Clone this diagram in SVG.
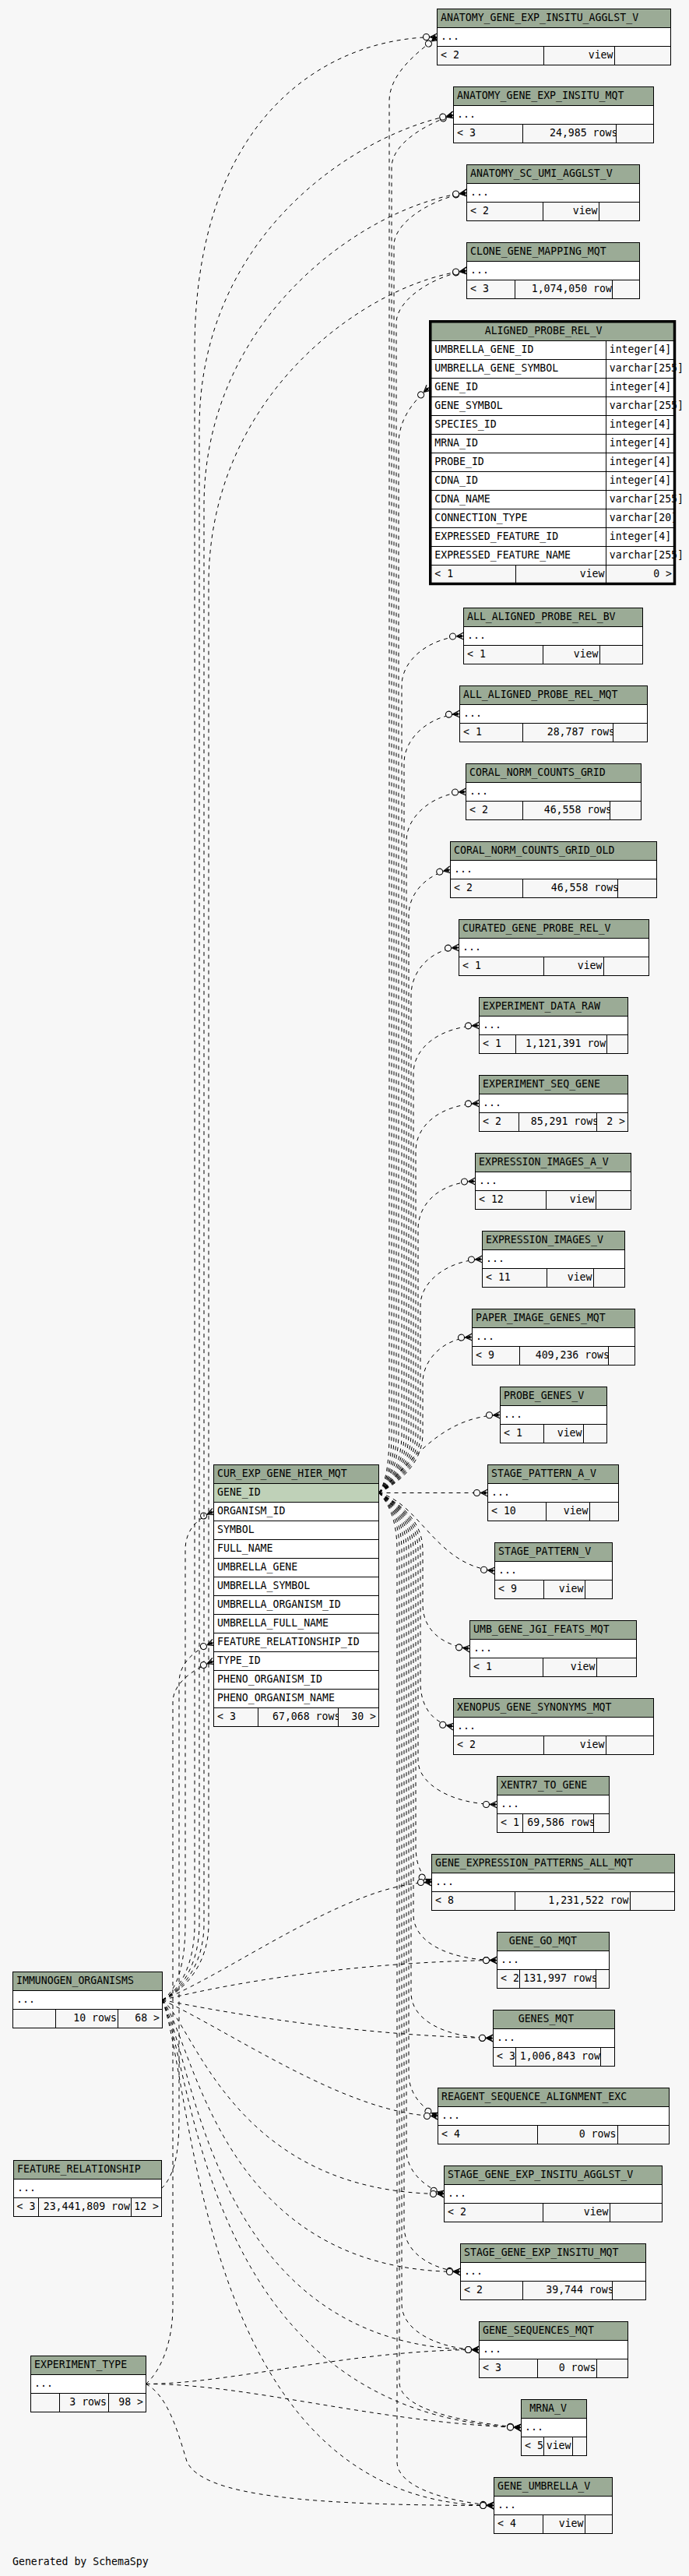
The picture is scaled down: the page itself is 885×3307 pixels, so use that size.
<svg xmlns="http://www.w3.org/2000/svg" width="885" height="3307" viewBox="0 0 885 3307">
<style>
.h{fill:#9bab96;stroke:#000;stroke-width:1}
.b{fill:#fff;stroke:#000;stroke-width:1}
.f{fill:#f7f7f7;stroke:#000;stroke-width:1}
.s{fill:#bfd1b8;stroke:#000;stroke-width:1}
text{font-family:"DejaVu Sans Mono","Liberation Mono",monospace;font-size:13.2px;fill:#000}
.r{text-anchor:end}
.e{fill:none;stroke:#000;stroke-width:1;stroke-dasharray:5 5;marker-end:url(#c)}
</style>
<defs>
<marker id="c" viewBox="-20 -6 21 12" refX="0" refY="0" markerWidth="21" markerHeight="12" markerUnits="userSpaceOnUse" orient="auto" overflow="visible">
<path d="M-9,0 L0,-4.5 M-9,0 L0,4.5 M-9,0 L0,0" stroke="#000" stroke-width="1.2" fill="none"/>
<path d="M-9,0 L-2,-2.2 L-2,2.2 Z" fill="#000"/>
<circle cx="-14" cy="0" r="4" fill="#f7f7f7" stroke="#000" stroke-width="1.1"/>
</marker>
</defs>
<rect x="0" y="0" width="885" height="3307" fill="#f7f7f7"/>

<g id="connectors">
<!-- CUR_EXP_GENE_HIER_MQT.GENE_ID children (upward) -->
<path class="e" d="M486.5,1916.5 C495,1905 500,1880 500,1840 L500,130 C500,95 535,68 561.5,47.5"/>
<path class="e" d="M486.5,1916.5 C496,1905 503,1880 503,1840 L503,215 C503,185 545,160 582.5,147.5"/>
<path class="e" d="M486.5,1916.5 C497,1905 506,1880 506,1840 L506,315 C506,285 555,255 599.5,247.5"/>
<path class="e" d="M486.5,1916.5 C498,1905 509,1880 509,1840 L509,415 C509,385 555,355 599.5,347.5"/>
<path class="e" d="M486.5,1916.5 C499,1905 512,1880 512,1840 L512,570 C512,535 535,512 551,497.5"/>
<path class="e" d="M486.5,1916.5 C500,1905 516,1880 516,1840 L516,880 C516,845 555,818 595.5,816.5"/>
<path class="e" d="M486.5,1916.5 C501,1905 519,1880 519,1840 L519,980 C519,945 555,918 590.5,916.5"/>
<path class="e" d="M486.5,1916.5 C502,1905 522,1880 522,1840 L522,1080 C522,1045 560,1018 598.5,1016.5"/>
<path class="e" d="M486.5,1916.5 C503,1905 525,1880 525,1840 L525,1175 C525,1145 550,1122 578.5,1116.5"/>
<path class="e" d="M486.5,1916.5 C504,1905 528,1880 528,1840 L528,1278 C528,1245 555,1218 589.5,1216.5"/>
<path class="e" d="M486.5,1916.5 C505,1905 531,1880 531,1840 L531,1378 C531,1345 565,1318 615.5,1316.5"/>
<path class="e" d="M486.5,1916.5 C506,1905 534,1880 534,1840 L534,1478 C534,1445 565,1418 615.5,1416.5"/>
<path class="e" d="M486.5,1916.5 C507,1905 537,1880 537,1840 L537,1578 C537,1545 565,1518 610.5,1516.5"/>
<path class="e" d="M486.5,1916.5 C508,1905 540,1880 540,1840 L540,1676 C540,1645 575,1618 619.5,1616.5"/>
<path class="e" d="M486.5,1916.5 C510,1905 543,1880 543,1840 L543,1775 C543,1745 570,1718 606.5,1716.5"/>
<path class="e" d="M486.5,1916.5 C520,1890 560,1818 642.5,1816.5"/>
<path class="e" d="M486.5,1916.5 L626.5,1916.5"/>
<!-- downward -->
<path class="e" d="M486.5,1916.5 C540,1930 560,2010 635.5,2016.5"/>
<path class="e" d="M486.5,1916.5 C510,1928 543,1950 543,1990 L543,2060 C543,2090 565,2112 603.5,2116.5"/>
<path class="e" d="M486.5,1916.5 C508,1928 540,1950 540,1990 L540,2160 C540,2190 555,2212 582.5,2216.5"/>
<path class="e" d="M486.5,1916.5 C507,1928 537,1950 537,1990 L537,2260 C537,2290 580,2316.5 638.5,2316.5"/>
<path class="e" d="M486.5,1916.5 C506,1928 534,1950 534,1990 L534,2370 C534,2395 542,2410 554.5,2416.5"/>
<path class="e" d="M486.5,1916.5 C505,1928 531,1950 531,1990 L531,2458 C531,2495 580,2516.5 638.5,2516.5"/>
<path class="e" d="M486.5,1916.5 C504,1928 528,1950 528,1990 L528,2558 C528,2595 575,2616.5 633.5,2616.5"/>
<path class="e" d="M486.5,1916.5 C503,1928 525,1950 525,1990 L525,2662 C525,2690 545,2708 562.5,2716.5"/>
<path class="e" d="M486.5,1916.5 C502,1928 522,1950 522,1990 L522,2760 C522,2790 550,2810 570.5,2816.5"/>
<path class="e" d="M486.5,1916.5 C501,1928 519,1950 519,1990 L519,2858 C519,2895 560,2914 591.5,2916.5"/>
<path class="e" d="M486.5,1916.5 C500,1928 516,1950 516,1990 L516,2958 C516,2995 570,3016.5 615.5,3016.5"/>
<path class="e" d="M486.5,1916.5 C499,1928 513,1950 513,1990 L513,3058 C513,3095 600,3110 669.5,3116.5"/>
<path class="e" d="M486.5,1916.5 C498,1928 510,1950 510,1990 L510,3160 C510,3195 580,3212 634.5,3216.5"/>
<!-- IMMUNOGEN_ORGANISMS children -->
<path class="e" d="M208.5,2567.5 C228,2555 238,2520 238,2470 L238,1990 C238,1965 252,1950 274.5,1940.5"/>
<path class="e" d="M208.5,2567.5 C232,2555 250,2520 250,2470 L250,450 C250,150 420,47.5 561.5,47.5"/>
<path class="e" d="M208.5,2567.5 C234,2555 256,2520 256,2470 L256,550 C256,300 460,170 582.5,147.5"/>
<path class="e" d="M208.5,2567.5 C236,2555 262,2520 262,2470 L262,650 C262,400 480,260 599.5,247.5"/>
<path class="e" d="M208.5,2567.5 C238,2555 268,2520 268,2470 L268,750 C268,500 480,360 599.5,347.5"/>
<path class="e" d="M208.5,2567.5 C300,2530 450,2416.5 554.5,2416.5"/>
<path class="e" d="M208.5,2567.5 C320,2540 480,2518 638.5,2516.5"/>
<path class="e" d="M208.5,2567.5 C320,2590 480,2614 633.5,2616.5"/>
<path class="e" d="M208.5,2567.5 C300,2610 450,2716.5 562.5,2716.5"/>
<path class="e" d="M208.5,2567.5 C250,2600 300,2816.5 570.5,2816.5"/>
<path class="e" d="M208.5,2567.5 C250,2620 280,2916.5 591.5,2916.5"/>
<path class="e" d="M208.5,2567.5 C250,2640 270,3016.5 615.5,3016.5"/>
<path class="e" d="M208.5,2567.5 C250,2660 260,3100 669.5,3116.5"/>
<path class="e" d="M208.5,2567.5 C250,2680 255,3216.5 634.5,3216.5"/>
<!-- FEATURE_RELATIONSHIP children -->
<path class="e" d="M207.5,2809.5 C222,2795 230,2770 230,2720 L230,2160 C230,2135 250,2118 274.5,2108.5"/>
<!-- EXPERIMENT_TYPE children -->
<path class="e" d="M187.5,3060.5 C205,3045 222,3010 222,2960 L222,2185 C222,2160 250,2142 274.5,2132.5"/>
<path class="e" d="M187.5,3060.5 C300,3060 450,3016.5 615.5,3016.5"/>
<path class="e" d="M187.5,3060.5 C320,3060 480,3110 669.5,3116.5"/>
<path class="e" d="M187.5,3060.5 C215,3075 228,3120 240,3160 C260,3205 400,3216.5 634.5,3216.5"/>
</g>

<g id="ANATOMY_GENE_EXP_INSITU_AGGLST_V">
<rect class="h" x="561.5" y="11.5" width="300" height="24"/><text x="566" y="27">ANATOMY_GENE_EXP_INSITU_AGGLST_V</text>
<rect class="b" x="561.5" y="35.5" width="300" height="24"/><text x="566" y="51">...</text>
<rect class="f" x="561.5" y="59.5" width="137" height="24"/><text x="566" y="75">&lt; 2</text>
<rect class="f" x="698.5" y="59.5" width="91" height="24"/><text class="r" x="787.5" y="75">view</text>
<rect class="f" x="789.5" y="59.5" width="72" height="24"/>
</g>
<g id="ANATOMY_GENE_EXP_INSITU_MQT">
<rect class="h" x="582.5" y="111.5" width="257" height="24"/><text x="587" y="127">ANATOMY_GENE_EXP_INSITU_MQT</text>
<rect class="b" x="582.5" y="135.5" width="257" height="24"/><text x="587" y="151">...</text>
<rect class="f" x="582.5" y="159.5" width="89" height="24"/><text x="587" y="175">&lt; 3</text>
<rect class="f" x="671.5" y="159.5" width="120" height="24"/><text x="706" y="175">24,985 rows</text>
<rect class="f" x="791.5" y="159.5" width="48" height="24"/>
</g>
<g id="ANATOMY_SC_UMI_AGGLST_V">
<rect class="h" x="599.5" y="211.5" width="222" height="24"/><text x="604" y="227">ANATOMY_SC_UMI_AGGLST_V</text>
<rect class="b" x="599.5" y="235.5" width="222" height="24"/><text x="604" y="251">...</text>
<rect class="f" x="599.5" y="259.5" width="98" height="24"/><text x="604" y="275">&lt; 2</text>
<rect class="f" x="697.5" y="259.5" width="72" height="24"/><text class="r" x="767.5" y="275">view</text>
<rect class="f" x="769.5" y="259.5" width="52" height="24"/>
</g>
<g id="CLONE_GENE_MAPPING_MQT">
<rect class="h" x="599.5" y="311.5" width="222" height="24"/><text x="604" y="327">CLONE_GENE_MAPPING_MQT</text>
<rect class="b" x="599.5" y="335.5" width="222" height="24"/><text x="604" y="351">...</text>
<rect class="f" x="599.5" y="359.5" width="62" height="24"/><text x="604" y="375">&lt; 3</text>
<rect class="f" x="661.5" y="359.5" width="125" height="24"/><text x="682.7" y="375">1,074,050 rows</text>
<rect class="f" x="786.5" y="359.5" width="35" height="24"/>
</g>
<g id="ALIGNED_PROBE_REL_V">
<rect class="h" x="552.5" y="411.5" width="314" height="26"/><text x="622.7" y="429">ALIGNED_PROBE_REL_V</text>
<rect class="b" x="552.5" y="437.5" width="226" height="24"/><rect class="b" x="778.5" y="437.5" width="88" height="24"/>
<rect class="b" x="552.5" y="461.5" width="226" height="24"/><rect class="b" x="778.5" y="461.5" width="88" height="24"/>
<rect class="b" x="552.5" y="485.5" width="226" height="24"/><rect class="b" x="778.5" y="485.5" width="88" height="24"/>
<rect class="b" x="552.5" y="509.5" width="226" height="24"/><rect class="b" x="778.5" y="509.5" width="88" height="24"/>
<rect class="b" x="552.5" y="533.5" width="226" height="24"/><rect class="b" x="778.5" y="533.5" width="88" height="24"/>
<rect class="b" x="552.5" y="557.5" width="226" height="24"/><rect class="b" x="778.5" y="557.5" width="88" height="24"/>
<rect class="b" x="552.5" y="581.5" width="226" height="24"/><rect class="b" x="778.5" y="581.5" width="88" height="24"/>
<rect class="b" x="552.5" y="605.5" width="226" height="24"/><rect class="b" x="778.5" y="605.5" width="88" height="24"/>
<rect class="b" x="552.5" y="629.5" width="226" height="24"/><rect class="b" x="778.5" y="629.5" width="88" height="24"/>
<rect class="b" x="552.5" y="653.5" width="226" height="24"/><rect class="b" x="778.5" y="653.5" width="88" height="24"/>
<rect class="b" x="552.5" y="677.5" width="226" height="24"/><rect class="b" x="778.5" y="677.5" width="88" height="24"/>
<rect class="b" x="552.5" y="701.5" width="226" height="24"/><rect class="b" x="778.5" y="701.5" width="88" height="24"/>
<text x="558.3" y="453">UMBRELLA_GENE_ID</text><text x="782.7" y="453">integer[4]</text>
<text x="558.3" y="477">UMBRELLA_GENE_SYMBOL</text><text x="782.7" y="477">varchar[255]</text>
<text x="558.3" y="501">GENE_ID</text><text x="782.7" y="501">integer[4]</text>
<text x="558.3" y="525">GENE_SYMBOL</text><text x="782.7" y="525">varchar[255]</text>
<text x="558.3" y="549">SPECIES_ID</text><text x="782.7" y="549">integer[4]</text>
<text x="558.3" y="573">MRNA_ID</text><text x="782.7" y="573">integer[4]</text>
<text x="558.3" y="597">PROBE_ID</text><text x="782.7" y="597">integer[4]</text>
<text x="558.3" y="621">CDNA_ID</text><text x="782.7" y="621">integer[4]</text>
<text x="558.3" y="645">CDNA_NAME</text><text x="782.7" y="645">varchar[255]</text>
<text x="558.3" y="669">CONNECTION_TYPE</text><text x="782.7" y="669">varchar[20]</text>
<text x="558.3" y="693">EXPRESSED_FEATURE_ID</text><text x="782.7" y="693">integer[4]</text>
<text x="558.3" y="717">EXPRESSED_FEATURE_NAME</text><text x="782.7" y="717">varchar[255]</text>
<rect class="f" x="552.5" y="725.5" width="110" height="24"/><text x="558.3" y="741">&lt; 1</text>
<rect class="f" x="662.5" y="725.5" width="116" height="24"/><text class="r" x="776.5" y="741">view</text>
<rect class="f" x="778.5" y="725.5" width="88" height="24"/><text class="r" x="863" y="741">0 &gt;</text>
<rect x="552.75" y="412.75" width="313.75" height="336.75" fill="none" stroke="#000" stroke-width="3.5"/>
</g>
<g id="ALL_ALIGNED_PROBE_REL_BV">
<rect class="h" x="595.5" y="780.5" width="230" height="24"/><text x="600" y="796">ALL_ALIGNED_PROBE_REL_BV</text>
<rect class="b" x="595.5" y="804.5" width="230" height="24"/><text x="600" y="820">...</text>
<rect class="f" x="595.5" y="828.5" width="102" height="24"/><text x="600" y="844">&lt; 1</text>
<rect class="f" x="697.5" y="828.5" width="73" height="24"/><text class="r" x="768.5" y="844">view</text>
<rect class="f" x="770.5" y="828.5" width="55" height="24"/>
</g>
<g id="ALL_ALIGNED_PROBE_REL_MQT">
<rect class="h" x="590.5" y="880.5" width="241" height="24"/><text x="595" y="896">ALL_ALIGNED_PROBE_REL_MQT</text>
<rect class="b" x="590.5" y="904.5" width="241" height="24"/><text x="595" y="920">...</text>
<rect class="f" x="590.5" y="928.5" width="81" height="24"/><text x="595" y="944">&lt; 1</text>
<rect class="f" x="671.5" y="928.5" width="116" height="24"/><text x="702.7" y="944">28,787 rows</text>
<rect class="f" x="787.5" y="928.5" width="44" height="24"/>
</g>
<g id="CORAL_NORM_COUNTS_GRID">
<rect class="h" x="598.5" y="980.5" width="225" height="24"/><text x="603" y="996">CORAL_NORM_COUNTS_GRID</text>
<rect class="b" x="598.5" y="1004.5" width="225" height="24"/><text x="603" y="1020">...</text>
<rect class="f" x="598.5" y="1028.5" width="73" height="24"/><text x="603" y="1044">&lt; 2</text>
<rect class="f" x="671.5" y="1028.5" width="112" height="24"/><text x="698.7" y="1044">46,558 rows</text>
<rect class="f" x="783.5" y="1028.5" width="40" height="24"/>
</g>
<g id="CORAL_NORM_COUNTS_GRID_OLD">
<rect class="h" x="578.5" y="1080.5" width="265" height="24"/><text x="583" y="1096">CORAL_NORM_COUNTS_GRID_OLD</text>
<rect class="b" x="578.5" y="1104.5" width="265" height="24"/><text x="583" y="1120">...</text>
<rect class="f" x="578.5" y="1128.5" width="93" height="24"/><text x="583" y="1144">&lt; 2</text>
<rect class="f" x="671.5" y="1128.5" width="122" height="24"/><text x="707.7" y="1144">46,558 rows</text>
<rect class="f" x="793.5" y="1128.5" width="50" height="24"/>
</g>
<g id="CURATED_GENE_PROBE_REL_V">
<rect class="h" x="589.5" y="1180.5" width="244" height="24"/><text x="594" y="1196">CURATED_GENE_PROBE_REL_V</text>
<rect class="b" x="589.5" y="1204.5" width="244" height="24"/><text x="594" y="1220">...</text>
<rect class="f" x="589.5" y="1228.5" width="109" height="24"/><text x="594" y="1244">&lt; 1</text>
<rect class="f" x="698.5" y="1228.5" width="77" height="24"/><text class="r" x="773.5" y="1244">view</text>
<rect class="f" x="775.5" y="1228.5" width="58" height="24"/>
</g>
<g id="EXPERIMENT_DATA_RAW">
<rect class="h" x="615.5" y="1280.5" width="191" height="24"/><text x="620" y="1296">EXPERIMENT_DATA_RAW</text>
<rect class="b" x="615.5" y="1304.5" width="191" height="24"/><text x="620" y="1320">...</text>
<rect class="f" x="615.5" y="1328.5" width="47" height="24"/><text x="620" y="1344">&lt; 1</text>
<rect class="f" x="662.5" y="1328.5" width="117" height="24"/><text x="675" y="1344">1,121,391 rows</text>
<rect class="f" x="779.5" y="1328.5" width="27" height="24"/>
</g>
<g id="EXPERIMENT_SEQ_GENE">
<rect class="h" x="615.5" y="1380.5" width="191" height="24"/><text x="620" y="1396">EXPERIMENT_SEQ_GENE</text>
<rect class="b" x="615.5" y="1404.5" width="191" height="24"/><text x="620" y="1420">...</text>
<rect class="f" x="615.5" y="1428.5" width="51" height="24"/><text x="620" y="1444">&lt; 2</text>
<rect class="f" x="666.5" y="1428.5" width="100" height="24"/><text x="681.7" y="1444">85,291 rows</text>
<rect class="f" x="766.5" y="1428.5" width="40" height="24"/><text class="r" x="803" y="1444">2 &gt;</text>
</g>
<g id="EXPRESSION_IMAGES_A_V">
<rect class="h" x="610.5" y="1480.5" width="200" height="24"/><text x="615" y="1496">EXPRESSION_IMAGES_A_V</text>
<rect class="b" x="610.5" y="1504.5" width="200" height="24"/><text x="615" y="1520">...</text>
<rect class="f" x="610.5" y="1528.5" width="91" height="24"/><text x="615" y="1544">&lt; 12</text>
<rect class="f" x="701.5" y="1528.5" width="64" height="24"/><text class="r" x="763.5" y="1544">view</text>
<rect class="f" x="765.5" y="1528.5" width="45" height="24"/>
</g>
<g id="EXPRESSION_IMAGES_V">
<rect class="h" x="619.5" y="1580.5" width="183" height="24"/><text x="624" y="1596">EXPRESSION_IMAGES_V</text>
<rect class="b" x="619.5" y="1604.5" width="183" height="24"/><text x="624" y="1620">...</text>
<rect class="f" x="619.5" y="1628.5" width="83" height="24"/><text x="624" y="1644">&lt; 11</text>
<rect class="f" x="702.5" y="1628.5" width="60" height="24"/><text class="r" x="760.5" y="1644">view</text>
<rect class="f" x="762.5" y="1628.5" width="40" height="24"/>
</g>
<g id="PAPER_IMAGE_GENES_MQT">
<rect class="h" x="606.5" y="1680.5" width="209" height="24"/><text x="611" y="1696">PAPER_IMAGE_GENES_MQT</text>
<rect class="b" x="606.5" y="1704.5" width="209" height="24"/><text x="611" y="1720">...</text>
<rect class="f" x="606.5" y="1728.5" width="61" height="24"/><text x="611" y="1744">&lt; 9</text>
<rect class="f" x="667.5" y="1728.5" width="114" height="24"/><text x="687.7" y="1744">409,236 rows</text>
<rect class="f" x="781.5" y="1728.5" width="34" height="24"/>
</g>
<g id="PROBE_GENES_V">
<rect class="h" x="642.5" y="1780.5" width="137" height="24"/><text x="647" y="1796">PROBE_GENES_V</text>
<rect class="b" x="642.5" y="1804.5" width="137" height="24"/><text x="647" y="1820">...</text>
<rect class="f" x="642.5" y="1828.5" width="56" height="24"/><text x="647" y="1844">&lt; 1</text>
<rect class="f" x="698.5" y="1828.5" width="51" height="24"/><text class="r" x="747.5" y="1844">view</text>
<rect class="f" x="749.5" y="1828.5" width="30" height="24"/>
</g>
<g id="STAGE_PATTERN_A_V">
<rect class="h" x="626.5" y="1880.5" width="168" height="24"/><text x="631" y="1896">STAGE_PATTERN_A_V</text>
<rect class="b" x="626.5" y="1904.5" width="168" height="24"/><text x="631" y="1920">...</text>
<rect class="f" x="626.5" y="1928.5" width="75" height="24"/><text x="631" y="1944">&lt; 10</text>
<rect class="f" x="701.5" y="1928.5" width="56" height="24"/><text class="r" x="755.5" y="1944">view</text>
<rect class="f" x="757.5" y="1928.5" width="37" height="24"/>
</g>
<g id="STAGE_PATTERN_V">
<rect class="h" x="635.5" y="1980.5" width="151" height="24"/><text x="640" y="1996">STAGE_PATTERN_V</text>
<rect class="b" x="635.5" y="2004.5" width="151" height="24"/><text x="640" y="2020">...</text>
<rect class="f" x="635.5" y="2028.5" width="63" height="24"/><text x="640" y="2044">&lt; 9</text>
<rect class="f" x="698.5" y="2028.5" width="53" height="24"/><text class="r" x="749.5" y="2044">view</text>
<rect class="f" x="751.5" y="2028.5" width="35" height="24"/>
</g>
<g id="UMB_GENE_JGI_FEATS_MQT">
<rect class="h" x="603.5" y="2080.5" width="214" height="24"/><text x="608" y="2096">UMB_GENE_JGI_FEATS_MQT</text>
<rect class="b" x="603.5" y="2104.5" width="214" height="24"/><text x="608" y="2120">...</text>
<rect class="f" x="603.5" y="2128.5" width="94" height="24"/><text x="608" y="2144">&lt; 1</text>
<rect class="f" x="697.5" y="2128.5" width="69" height="24"/><text class="r" x="764.5" y="2144">view</text>
<rect class="f" x="766.5" y="2128.5" width="51" height="24"/>
</g>
<g id="XENOPUS_GENE_SYNONYMS_MQT">
<rect class="h" x="582.5" y="2180.5" width="257" height="24"/><text x="587" y="2196">XENOPUS_GENE_SYNONYMS_MQT</text>
<rect class="b" x="582.5" y="2204.5" width="257" height="24"/><text x="587" y="2220">...</text>
<rect class="f" x="582.5" y="2228.5" width="116" height="24"/><text x="587" y="2244">&lt; 2</text>
<rect class="f" x="698.5" y="2228.5" width="80" height="24"/><text class="r" x="776.5" y="2244">view</text>
<rect class="f" x="778.5" y="2228.5" width="61" height="24"/>
</g>
<g id="XENTR7_TO_GENE">
<rect class="h" x="638.5" y="2280.5" width="144" height="24"/><text x="643" y="2296">XENTR7_TO_GENE</text>
<rect class="b" x="638.5" y="2304.5" width="144" height="24"/><text x="643" y="2320">...</text>
<rect class="f" x="638.5" y="2328.5" width="33" height="24"/><text x="643" y="2344">&lt; 1</text>
<rect class="f" x="671.5" y="2328.5" width="91" height="24"/><text x="677.3" y="2344">69,586 rows</text>
<rect class="f" x="762.5" y="2328.5" width="20" height="24"/>
</g>
<g id="GENE_EXPRESSION_PATTERNS_ALL_MQT">
<rect class="h" x="554.5" y="2380.5" width="312" height="24"/><text x="559" y="2396">GENE_EXPRESSION_PATTERNS_ALL_MQT</text>
<rect class="b" x="554.5" y="2404.5" width="312" height="24"/><text x="559" y="2420">...</text>
<rect class="f" x="554.5" y="2428.5" width="107" height="24"/><text x="559" y="2444">&lt; 8</text>
<rect class="f" x="661.5" y="2428.5" width="148" height="24"/><text x="704.3" y="2444">1,231,522 rows</text>
<rect class="f" x="809.5" y="2428.5" width="57" height="24"/>
</g>
<g id="GENE_GO_MQT">
<rect class="h" x="638.5" y="2480.5" width="144" height="24"/><text x="653.7" y="2496">GENE_GO_MQT</text>
<rect class="b" x="638.5" y="2504.5" width="144" height="24"/><text x="643" y="2520">...</text>
<rect class="f" x="638.5" y="2528.5" width="29" height="24"/><text x="643" y="2544">&lt; 2</text>
<rect class="f" x="667.5" y="2528.5" width="98" height="24"/><text x="672.3" y="2544">131,997 rows</text>
<rect class="f" x="765.5" y="2528.5" width="17" height="24"/>
</g>
<g id="GENES_MQT">
<rect class="h" x="633.5" y="2580.5" width="156" height="24"/><text x="665.7" y="2596">GENES_MQT</text>
<rect class="b" x="633.5" y="2604.5" width="156" height="24"/><text x="638" y="2620">...</text>
<rect class="f" x="633.5" y="2628.5" width="29" height="24"/><text x="638" y="2644">&lt; 3</text>
<rect class="f" x="662.5" y="2628.5" width="109" height="24"/><text x="667.7" y="2644">1,006,843 rows</text>
<rect class="f" x="771.5" y="2628.5" width="18" height="24"/>
</g>
<g id="REAGENT_SEQUENCE_ALIGNMENT_EXC">
<rect class="h" x="562.5" y="2680.5" width="297" height="24"/><text x="567" y="2696">REAGENT_SEQUENCE_ALIGNMENT_EXC</text>
<rect class="b" x="562.5" y="2704.5" width="297" height="24"/><text x="567" y="2720">...</text>
<rect class="f" x="562.5" y="2728.5" width="128" height="24"/><text x="567" y="2744">&lt; 4</text>
<rect class="f" x="690.5" y="2728.5" width="103" height="24"/><text x="743.7" y="2744">0 rows</text>
<rect class="f" x="793.5" y="2728.5" width="66" height="24"/>
</g>
<g id="STAGE_GENE_EXP_INSITU_AGGLST_V">
<rect class="h" x="570.5" y="2780.5" width="280" height="24"/><text x="575" y="2796">STAGE_GENE_EXP_INSITU_AGGLST_V</text>
<rect class="b" x="570.5" y="2804.5" width="280" height="24"/><text x="575" y="2820">...</text>
<rect class="f" x="570.5" y="2828.5" width="127" height="24"/><text x="575" y="2844">&lt; 2</text>
<rect class="f" x="697.5" y="2828.5" width="86" height="24"/><text class="r" x="781.5" y="2844">view</text>
<rect class="f" x="783.5" y="2828.5" width="67" height="24"/>
</g>
<g id="STAGE_GENE_EXP_INSITU_MQT">
<rect class="h" x="591.5" y="2880.5" width="238" height="24"/><text x="596" y="2896">STAGE_GENE_EXP_INSITU_MQT</text>
<rect class="b" x="591.5" y="2904.5" width="238" height="24"/><text x="596" y="2920">...</text>
<rect class="f" x="591.5" y="2928.5" width="80" height="24"/><text x="596" y="2944">&lt; 2</text>
<rect class="f" x="671.5" y="2928.5" width="115" height="24"/><text x="701.3" y="2944">39,744 rows</text>
<rect class="f" x="786.5" y="2928.5" width="43" height="24"/>
</g>
<g id="GENE_SEQUENCES_MQT">
<rect class="h" x="615.5" y="2980.5" width="191" height="24"/><text x="620" y="2996">GENE_SEQUENCES_MQT</text>
<rect class="b" x="615.5" y="3004.5" width="191" height="24"/><text x="620" y="3020">...</text>
<rect class="f" x="615.5" y="3028.5" width="75" height="24"/><text x="620" y="3044">&lt; 3</text>
<rect class="f" x="690.5" y="3028.5" width="76" height="24"/><text x="717.7" y="3044">0 rows</text>
<rect class="f" x="766.5" y="3028.5" width="40" height="24"/>
</g>
<g id="MRNA_V">
<rect class="h" x="669.5" y="3080.5" width="84" height="24"/><text x="680.3" y="3096">MRNA_V</text>
<rect class="b" x="669.5" y="3104.5" width="84" height="24"/><text x="674" y="3120">...</text>
<rect class="f" x="669.5" y="3128.5" width="29" height="24"/><text x="674" y="3144">&lt; 5</text>
<rect class="f" x="698.5" y="3128.5" width="37" height="24"/><text class="r" x="733.5" y="3144">view</text>
<rect class="f" x="735.5" y="3128.5" width="18" height="24"/>
</g>
<g id="GENE_UMBRELLA_V">
<rect class="h" x="634.5" y="3180.5" width="152" height="24"/><text x="639" y="3196">GENE_UMBRELLA_V</text>
<rect class="b" x="634.5" y="3204.5" width="152" height="24"/><text x="639" y="3220">...</text>
<rect class="f" x="634.5" y="3228.5" width="63" height="24"/><text x="639" y="3244">&lt; 4</text>
<rect class="f" x="697.5" y="3228.5" width="54" height="24"/><text class="r" x="749.5" y="3244">view</text>
<rect class="f" x="751.5" y="3228.5" width="35" height="24"/>
</g>
<g id="CUR_EXP_GENE_HIER_MQT">
<rect class="h" x="274.5" y="1880.5" width="212" height="24"/><text x="279" y="1896">CUR_EXP_GENE_HIER_MQT</text>
<rect class="s" x="274.5" y="1904.5" width="212" height="24"/><text x="279" y="1920">GENE_ID</text>
<rect class="b" x="274.5" y="1928.5" width="212" height="24"/><text x="279" y="1944">ORGANISM_ID</text>
<rect class="b" x="274.5" y="1952.5" width="212" height="24"/><text x="279" y="1968">SYMBOL</text>
<rect class="b" x="274.5" y="1976.5" width="212" height="24"/><text x="279" y="1992">FULL_NAME</text>
<rect class="b" x="274.5" y="2000.5" width="212" height="24"/><text x="279" y="2016">UMBRELLA_GENE</text>
<rect class="b" x="274.5" y="2024.5" width="212" height="24"/><text x="279" y="2040">UMBRELLA_SYMBOL</text>
<rect class="b" x="274.5" y="2048.5" width="212" height="24"/><text x="279" y="2064">UMBRELLA_ORGANISM_ID</text>
<rect class="b" x="274.5" y="2072.5" width="212" height="24"/><text x="279" y="2088">UMBRELLA_FULL_NAME</text>
<rect class="b" x="274.5" y="2096.5" width="212" height="24"/><text x="279" y="2112">FEATURE_RELATIONSHIP_ID</text>
<rect class="b" x="274.5" y="2120.5" width="212" height="24"/><text x="279" y="2136">TYPE_ID</text>
<rect class="b" x="274.5" y="2144.5" width="212" height="24"/><text x="279" y="2160">PHENO_ORGANISM_ID</text>
<rect class="b" x="274.5" y="2168.5" width="212" height="24"/><text x="279" y="2184">PHENO_ORGANISM_NAME</text>
<rect class="f" x="274.5" y="2192.5" width="57" height="24"/><text x="279" y="2208">&lt; 3</text>
<rect class="f" x="331.5" y="2192.5" width="103" height="24"/><text x="350" y="2208">67,068 rows</text>
<rect class="f" x="434.5" y="2192.5" width="52" height="24"/><text class="r" x="483" y="2208">30 &gt;</text>
</g>
<g id="IMMUNOGEN_ORGANISMS">
<rect class="h" x="16.5" y="2531.5" width="192" height="24"/><text x="21" y="2547">IMMUNOGEN_ORGANISMS</text>
<rect class="b" x="16.5" y="2555.5" width="192" height="24"/><text x="21" y="2571">...</text>
<rect class="f" x="16.5" y="2579.5" width="55" height="24"/>
<rect class="f" x="71.5" y="2579.5" width="80" height="24"/><text x="94.3" y="2595">10 rows</text>
<rect class="f" x="151.5" y="2579.5" width="57" height="24"/><text class="r" x="205" y="2595">68 &gt;</text>
</g>
<g id="FEATURE_RELATIONSHIP">
<rect class="h" x="17.5" y="2773.5" width="190" height="24"/><text x="22" y="2789">FEATURE_RELATIONSHIP</text>
<rect class="b" x="17.5" y="2797.5" width="190" height="24"/><text x="22" y="2813">...</text>
<rect class="f" x="17.5" y="2821.5" width="32" height="24"/><text x="21.5" y="2837">&lt; 3</text>
<rect class="f" x="49.5" y="2821.5" width="119" height="24"/><text x="55.7" y="2837">23,441,809 rows</text>
<rect class="f" x="168.5" y="2821.5" width="39" height="24"/><text class="r" x="204" y="2837">12 &gt;</text>
</g>
<g id="EXPERIMENT_TYPE">
<rect class="h" x="39.5" y="3024.5" width="148" height="24"/><text x="44" y="3040">EXPERIMENT_TYPE</text>
<rect class="b" x="39.5" y="3048.5" width="148" height="24"/><text x="44" y="3064">...</text>
<rect class="f" x="39.5" y="3072.5" width="37" height="24"/>
<rect class="f" x="76.5" y="3072.5" width="63" height="24"/><text x="89.3" y="3088">3 rows</text>
<rect class="f" x="139.5" y="3072.5" width="48" height="24"/><text class="r" x="184" y="3088">98 &gt;</text>
</g>
<text x="16" y="3293">Generated by SchemaSpy</text>
</svg>
